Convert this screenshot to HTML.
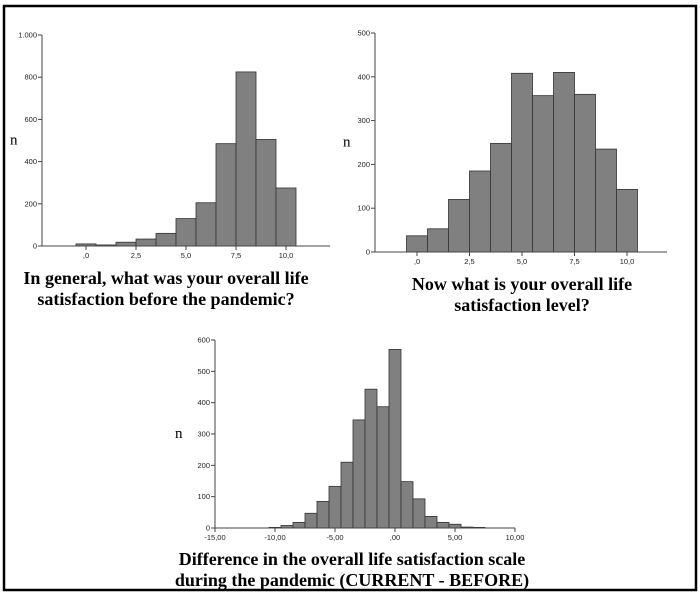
<!DOCTYPE html>
<html><head><meta charset="utf-8"><style>
html,body{margin:0;padding:0;background:#fff;}
svg{display:block;}
.tick{font-family:"Liberation Sans",sans-serif;font-size:7.5px;fill:#222;}
.cap{font-family:"Liberation Serif",serif;font-weight:bold;font-size:18px;fill:#000;}
.nlab{font-family:"Liberation Serif",serif;font-size:15px;fill:#000;}
</style></head><body>
<svg id="fig" width="700" height="594" viewBox="0 0 700 594">
<rect x="4" y="6" width="692" height="584" fill="none" stroke="#000" stroke-width="2.5"/>
<g id="c1"></g>
<g id="c2"></g>
<g id="c3"></g>
<text class="cap" x="166" y="284" text-anchor="middle">In general, what was your overall life</text>
<text class="cap" x="166" y="305" text-anchor="middle">satisfaction before the pandemic?</text>
<text class="cap" x="522" y="290" text-anchor="middle">Now what is your overall life</text>
<text class="cap" x="522" y="311" text-anchor="middle">satisfaction level?</text>
<text class="cap" x="352" y="565" text-anchor="middle">Difference in the overall life satisfaction scale</text>
<text class="cap" x="352" y="586" text-anchor="middle">during the pandemic (CURRENT - BEFORE)</text>
</svg>
<script>
const beforeBins = [0,1,2,3,4,5,6,7,8,9,10];
const beforeCounts = [10,5,18,33,60,130,205,485,825,505,275];
const beforeYTicks = [0,200,400,600,800,1000];
const beforeYLabels = ["0","200","400","600","800","1.000"];
const beforeXTicks = [0,2.5,5,7.5,10];
const beforeXLabels = [",0","2,5","5,0","7,5","10,0"];

const nowBins = [0,1,2,3,4,5,6,7,8,9,10];
const nowCounts = [37,53,120,185,248,408,357,410,360,235,143];
const nowYTicks = [0,100,200,300,400,500];
const nowYLabels = ["0","100","200","300","400","500"];
const nowXTicks = [0,2.5,5,7.5,10];
const nowXLabels = [",0","2,5","5,0","7,5","10,0"];

const diffBins = [-10,-9,-8,-7,-6,-5,-4,-3,-2,-1,0,1,2,3,4,5,6,7];
const diffCounts = [2,8,18,47,85,133,210,345,443,387,570,148,93,37,18,12,3,2];
const diffYTicks = [0,100,200,300,400,500,600];
const diffYLabels = ["0","100","200","300","400","500","600"];
const diffXTicks = [-15,-10,-5,0,5,10];
const diffXLabels = ["-15,00","-10,00","-5,00",",00","5,00","10,00"];

const NS="http://www.w3.org/2000/svg";
function mk(tag,attrs,parent){const e=document.createElementNS(NS,tag);for(const k in attrs)e.setAttribute(k,attrs[k]);parent.appendChild(e);return e;}

function hist(g,cfg,bins,counts,yT,yL,xT,xL,prefix){
  const xs=v=>cfg.x0px+(v-cfg.x0v)*cfg.pxPerUnit;
  const ys=v=>cfg.y0px-v*cfg.pxPerCount;
  bins.forEach((b,i)=>{
    const r=mk('rect',{x:xs(b-0.5),y:ys(counts[i]),width:cfg.pxPerUnit*1,height:ys(0)-ys(counts[i]),fill:'#808080',stroke:'#333','stroke-width':0.8},g);
    
    
  });
  const ya=mk('line',{x1:cfg.axisX,y1:ys(0),x2:cfg.axisX,y2:ys(yT[yT.length-1]),stroke:'#444','stroke-width':1},g);
  
  
  const xa=mk('line',{x1:cfg.axisX,y1:ys(0),x2:cfg.xEnd,y2:ys(0),stroke:'#444','stroke-width':1},g);
  
  
  yT.forEach((v,i)=>{
    mk('line',{x1:cfg.axisX-4,y1:ys(v),x2:cfg.axisX,y2:ys(v),stroke:'#444','stroke-width':1},g);
    const t=mk('text',{x:cfg.axisX-5,y:ys(v)+2.5,'text-anchor':'end',class:'tick'},g);
    t.textContent=yL[i];
    
    
  });
  xT.forEach((v,i)=>{
    mk('line',{x1:xs(v),y1:ys(0),x2:xs(v),y2:ys(0)+4,stroke:'#444','stroke-width':1},g);
    const t=mk('text',{x:xs(v),y:ys(0)+12,'text-anchor':'middle',class:'tick'},g);
    t.textContent=xL[i];
    
    
  });
  const n=mk('text',{x:cfg.nX,y:(ys(0)+ys(yT[yT.length-1]))/2+4,class:'nlab'},g);
  n.textContent='n';
  
  
}
hist(document.getElementById('c1'),{x0px:86,x0v:0,pxPerUnit:20,y0px:246,pxPerCount:211/1000,axisX:42,xEnd:330,nX:10},beforeBins,beforeCounts,beforeYTicks,beforeYLabels,beforeXTicks,beforeXLabels,'before');
hist(document.getElementById('c2'),{x0px:417,x0v:0,pxPerUnit:21,y0px:252,pxPerCount:219/500,axisX:375,xEnd:667,nX:343},nowBins,nowCounts,nowYTicks,nowYLabels,nowXTicks,nowXLabels,'now');
hist(document.getElementById('c3'),{x0px:215,x0v:-15,pxPerUnit:12,y0px:528,pxPerCount:188/600,axisX:215,xEnd:515,nX:175},diffBins,diffCounts,diffYTicks,diffYLabels,diffXTicks,diffXLabels,'diff');
</script>
</body></html>
